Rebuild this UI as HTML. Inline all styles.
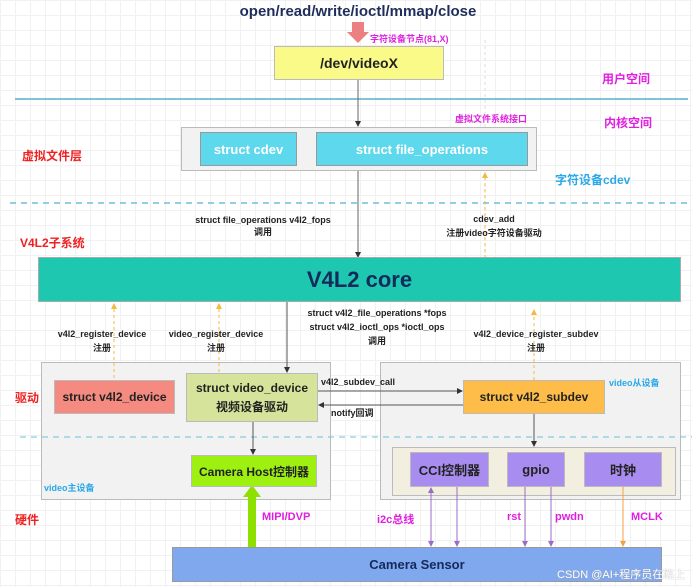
<!DOCTYPE html>
<html><head><meta charset="utf-8"><style>
body{margin:0;width:692px;height:587px;overflow:hidden;background:#fff;
background-image:linear-gradient(#f1f1f1 1px,transparent 1px),linear-gradient(90deg,#f1f1f1 1px,transparent 1px);background-size:15px 15px;
font-family:"Liberation Sans","Noto Sans CJK SC",sans-serif;position:relative}
.a{position:absolute;box-sizing:border-box}
.b{position:absolute;box-sizing:border-box;display:flex;align-items:center;justify-content:center;text-align:center;border:1px solid #bbb}
.t{position:absolute;white-space:nowrap;font-size:9px;color:#222;font-weight:bold}
.c{transform:translateX(-50%);text-align:center}
</style></head><body>
<svg class="a" style="left:0;top:0" width="692" height="587">
<defs>
<marker id="ar" markerWidth="6" markerHeight="6" refX="5" refY="3" orient="auto"><path d="M0,0L6,3L0,6z" fill="#333"/></marker>
<marker id="ay" markerWidth="6" markerHeight="6" refX="5" refY="3" orient="auto"><path d="M0,0L6,3L0,6z" fill="#f5b940"/></marker>
<marker id="ap" markerWidth="6" markerHeight="6" refX="5" refY="3" orient="auto"><path d="M0,0L6,3L0,6z" fill="#9b6bc8"/></marker>
<marker id="ao" markerWidth="6" markerHeight="6" refX="5" refY="3" orient="auto"><path d="M0,0L6,3L0,6z" fill="#f5a040"/></marker>
</defs>
<line x1="15" y1="99" x2="688" y2="99" stroke="#5aaec8" stroke-width="1.5"/>
<line x1="10" y1="203" x2="692" y2="203" stroke="#6bc0d8" stroke-width="1.5" stroke-dasharray="6,5"/>
<line x1="485" y1="40" x2="485" y2="260" stroke="#ddd" stroke-dasharray="3,3"/>
<line x1="358" y1="80" x2="358" y2="126" stroke="#666" marker-end="url(#ar)"/>
<line x1="358" y1="171" x2="358" y2="257" stroke="#666" marker-end="url(#ar)"/>
<line x1="485" y1="258" x2="485" y2="173" stroke="#f5b940" stroke-dasharray="3,3" marker-end="url(#ay)"/>
<path d="M352,22h12v10h5l-11,11l-11,-11h5z" fill="#ec7f7f"/>
</svg>
<div class="t c" style="left:358px;top:3px;font-size:15px;color:#1f2d5a">open/read/write/ioctl/mmap/close</div>
<div class="t" style="left:370px;top:32px;font-size:9px;color:#e020e0">字符设备节点(81,X)</div>
<div class="b" style="left:274px;top:46px;width:170px;height:34px;background:#fafa88;font-size:14px;color:#222;font-weight:bold">/dev/videoX</div>
<div class="t" style="left:602px;top:70px;font-size:12px;color:#e020e0">用户空间</div>
<div class="t" style="left:455px;top:112px;font-size:9px;color:#e020e0">虚拟文件系统接口</div>
<div class="t" style="left:604px;top:114px;font-size:12px;color:#e020e0">内核空间</div>
<div class="b" style="left:181px;top:127px;width:356px;height:44px;background:#f2f2f2"></div>
<div class="b" style="left:200px;top:132px;width:97px;height:34px;background:#5dd8ec;color:#fff;font-size:13px;font-weight:bold;border-color:#999">struct cdev</div>
<div class="b" style="left:316px;top:132px;width:212px;height:34px;background:#5dd8ec;color:#fff;font-size:13px;font-weight:bold;border-color:#999">struct file_operations</div>
<div class="t" style="left:22px;top:147px;font-size:12px;color:#f02020">虚拟文件层</div>
<div class="t" style="left:555px;top:171px;font-size:12px;color:#2aa8e8">字符设备cdev</div>
<div class="t c" style="left:263px;top:215px">struct file_operations v4l2_fops<br>调用</div>
<div class="t c" style="left:494px;top:212px;line-height:14px">cdev_add<br>注册video字符设备驱动</div>
<div class="t" style="left:20px;top:234px;font-size:12px;color:#f02020">V4L2子系统</div>
<div class="b" style="left:38px;top:257px;width:643px;height:45px;background:#1ec8b0;font-size:22px;color:#142a5a;font-weight:bold;border-color:#aaa">V4L2 core</div>
<div class="b" style="left:41px;top:362px;width:290px;height:138px;background:#f2f2f2"></div>
<div class="b" style="left:380px;top:362px;width:301px;height:138px;background:#f2f2f2"></div>
<div class="b" style="left:392px;top:447px;width:284px;height:49px;background:#f2efe0"></div>
<svg class="a" style="left:0;top:0" width="692" height="587">
<line x1="20" y1="437" x2="692" y2="437" stroke="#6bc0d8" stroke-width="1" stroke-dasharray="6,5"/>
<line x1="114" y1="378" x2="114" y2="304" stroke="#f5b940" stroke-dasharray="3,3" marker-end="url(#ay)"/>
<line x1="219" y1="372" x2="219" y2="304" stroke="#f5b940" stroke-dasharray="3,3" marker-end="url(#ay)"/>
<line x1="534" y1="380" x2="534" y2="310" stroke="#f5b940" stroke-dasharray="3,3" marker-end="url(#ay)"/>
<line x1="287" y1="302" x2="287" y2="372" stroke="#555" marker-end="url(#ar)"/>
<line x1="253" y1="422" x2="253" y2="454" stroke="#555" marker-end="url(#ar)"/>
<line x1="534" y1="414" x2="534" y2="446" stroke="#555" marker-end="url(#ar)"/>
<line x1="318" y1="391" x2="462" y2="391" stroke="#555" marker-end="url(#ar)"/>
<line x1="463" y1="405" x2="319" y2="405" stroke="#555" marker-end="url(#ar)"/>
<line x1="431" y1="546" x2="431" y2="488" stroke="#9b6bc8" marker-end="url(#ap)"/>
<line x1="431" y1="488" x2="431" y2="546" stroke="#9b6bc8" marker-end="url(#ap)"/>
<line x1="457" y1="487" x2="457" y2="546" stroke="#9b6bc8" marker-end="url(#ap)"/>
<line x1="525" y1="487" x2="525" y2="546" stroke="#9b6bc8" marker-end="url(#ap)"/>
<line x1="551" y1="487" x2="551" y2="546" stroke="#9b6bc8" marker-end="url(#ap)"/>
<line x1="623" y1="487" x2="623" y2="546" stroke="#f5a040" marker-end="url(#ao)"/>
<rect x="248" y="495" width="8" height="52" fill="#8ee000"/>
<path d="M243,497L252,485L261,497z" fill="#8ee000"/>
</svg>
<div class="t c" style="left:102px;top:327px;line-height:14px">v4l2_register_device<br>注册</div>
<div class="t c" style="left:216px;top:327px;line-height:14px">video_register_device<br>注册</div>
<div class="t c" style="left:377px;top:306px;line-height:14px">struct v4l2_file_operations *fops<br>struct v4l2_ioctl_ops *ioctl_ops<br>调用</div>
<div class="t c" style="left:536px;top:327px;line-height:14px">v4l2_device_register_subdev<br>注册</div>
<div class="t" style="left:15px;top:389px;font-size:12px;color:#f02020">驱动</div>
<div class="b" style="left:54px;top:380px;width:121px;height:34px;background:#f48a80;font-size:12px;color:#222;font-weight:bold">struct v4l2_device</div>
<div class="b" style="left:186px;top:373px;width:132px;height:49px;background:#d6e39a;font-size:12px;color:#222;font-weight:bold;line-height:19px">struct video_device<br>视频设备驱动</div>
<div class="t" style="left:321px;top:377px">v4l2_subdev_call</div>
<div class="t" style="left:331px;top:406px">notify回调</div>
<div class="b" style="left:463px;top:380px;width:142px;height:34px;background:#fdbd48;font-size:12px;color:#222;font-weight:bold">struct v4l2_subdev</div>
<div class="t" style="left:609px;top:376px;color:#2aa8e8">video从设备</div>
<div class="b" style="left:191px;top:455px;width:126px;height:32px;background:#9ef010;font-size:12px;color:#222;font-weight:bold">Camera Host控制器</div>
<div class="t" style="left:44px;top:481px;color:#2aa8e8">video主设备</div>
<div class="b" style="left:410px;top:452px;width:79px;height:35px;background:#a88cf0;font-size:13px;color:#222;font-weight:bold">CCI控制器</div>
<div class="b" style="left:507px;top:452px;width:58px;height:35px;background:#a88cf0;font-size:13px;color:#222;font-weight:bold">gpio</div>
<div class="b" style="left:584px;top:452px;width:78px;height:35px;background:#a88cf0;font-size:13px;color:#222;font-weight:bold">时钟</div>
<div class="t" style="left:15px;top:511px;font-size:12px;color:#f02020">硬件</div>
<div class="t" style="left:262px;top:511px;font-size:11px;color:#e020e0">MIPI/DVP</div>
<div class="t" style="left:377px;top:511px;font-size:11px;color:#e020e0">i2c总线</div>
<div class="t" style="left:507px;top:511px;font-size:11px;color:#e020e0">rst</div>
<div class="t" style="left:555px;top:511px;font-size:11px;color:#e020e0">pwdn</div>
<div class="t" style="left:631px;top:511px;font-size:11px;color:#e020e0">MCLK</div>
<div class="b" style="left:172px;top:547px;width:490px;height:35px;background:#80a8ee;font-size:13px;color:#142a5a;font-weight:bold;border-color:#999">Camera Sensor</div>
<div class="t" style="left:557px;top:566px;font-size:11px;color:#fff;font-weight:normal;text-shadow:0 0 1px #999">CSDN @AI+程序员在路上</div>
</body></html>
